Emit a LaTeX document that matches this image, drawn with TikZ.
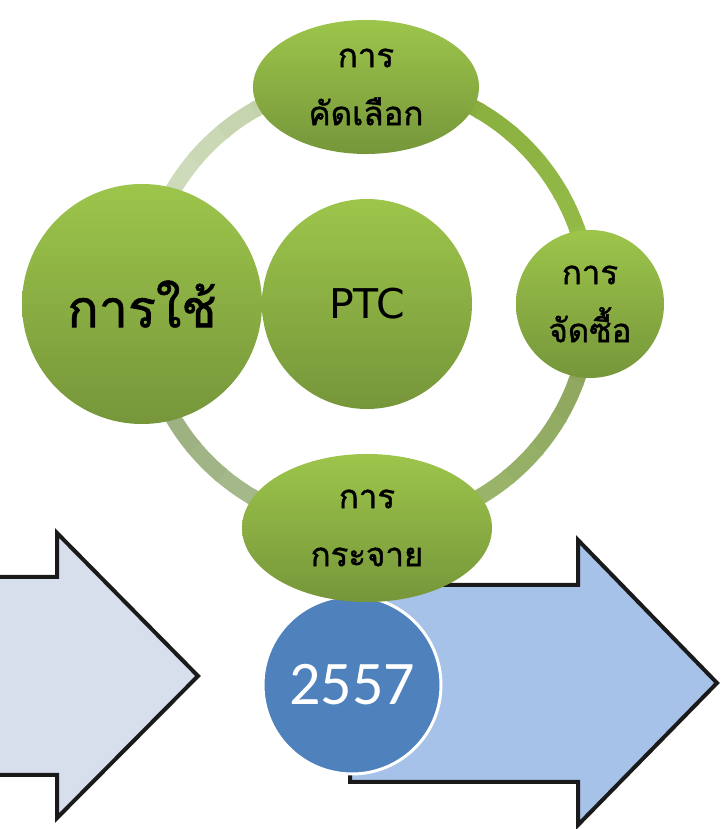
\documentclass[tikz,border=0pt]{standalone}
\usepackage{fontspec}
\newfontfamily\thaifont[Script=Thai, FakeBold=1.2]{Loma}
\newfontfamily\latinfont{DejaVu Sans}
\newfontfamily\numfont{Carlito}
\usepackage{tikz}
\usetikzlibrary{shapes.geometric}

\definecolor{grntop}{HTML}{9DC54B}
\definecolor{grnbot}{HTML}{76963A}
\definecolor{ringA}{HTML}{97BF4A}
\definecolor{ringB}{HTML}{84A83C}
\definecolor{ringC}{HTML}{A2BF72}
\definecolor{ringD}{HTML}{8AA05A}
\definecolor{ringE}{HTML}{94A877}
\definecolor{ringF}{HTML}{AEC194}
\definecolor{ringG}{HTML}{BCCCA2}
\definecolor{ringH}{HTML}{D8E4C8}
\definecolor{paleblue}{HTML}{D7DFEC}
\definecolor{midblue}{HTML}{A6C2E8}
\definecolor{yearblue}{HTML}{4F81BD}
\definecolor{arrowline}{HTML}{1A1A1A}

\begin{document}
\begin{tikzpicture}[x=1pt,y=1pt,
    gnode/.style={top color=grntop, bottom color=grnbot, draw=none, inner sep=0pt,
        align=center, font=\thaifont\fontsize{33}{58}\selectfont},
    ring/.style={line width=16pt},
    arrowbox/.style={line width=4pt, draw=arrowline, line join=miter}]
                \useasboundingbox (0,0) rectangle (724,829);

                % Arrows
                \draw[arrowbox, fill=paleblue] (-10,252) -- (57,252) -- (57,296) -- (198,153)
                    -- (57,11) -- (57,54) -- (-10,54);
                \draw[arrowbox, fill=midblue] (350,244) -- (578,244) -- (578,289) -- (717,146)
                    -- (578,4) -- (578,47) -- (350,47) -- cycle;

                % Year
                \node[circle, fill=yearblue, draw=white, line width=3pt, minimum size=178pt,
                    inner sep=0pt, text=white, font=\numfont\fontsize{62}{66}\selectfont]
                    (year) at (352,144) {2557};

                % Ring, one shaded quarter after another
                \coordinate (ctr) at (366,525);
                \foreach \s/\ca/\cb in {90/ringA/ringB, 0/ringC/ringD, -90/ringE/ringF, 180/ringG/ringH}
                    \foreach \k in {0,...,8} {
                        \pgfmathsetmacro\mix{100-12.5*\k}
                        \draw[ring, color={\cb!\mix!\ca}] (ctr) ++(\s-10*\k:224) arc (\s-10*\k:\s-10*\k-11:224);
                    }

                % Steps
                \node[gnode, ellipse, minimum width=226pt, minimum height=134pt] (select) at (366,742) {การ\\คัดเลือก};
                \node[gnode, circle, minimum size=148pt] (buy) at (590,525) {การ\\จัดซื้อ};
                \node[gnode, ellipse, minimum width=250pt, minimum height=148pt] (spread) at (367,301) {การ\\กระจาย};
                \node[gnode, circle, minimum size=240pt, font=\thaifont\fontsize{52}{60}\selectfont] (use) at (142,525) {การใช้};

                % Centre
                \node[gnode, circle, minimum size=210pt, font=\latinfont\fontsize{41}{50}\selectfont] (ptc) at (367,525) {PTC};
            \end{tikzpicture}
\end{document}
